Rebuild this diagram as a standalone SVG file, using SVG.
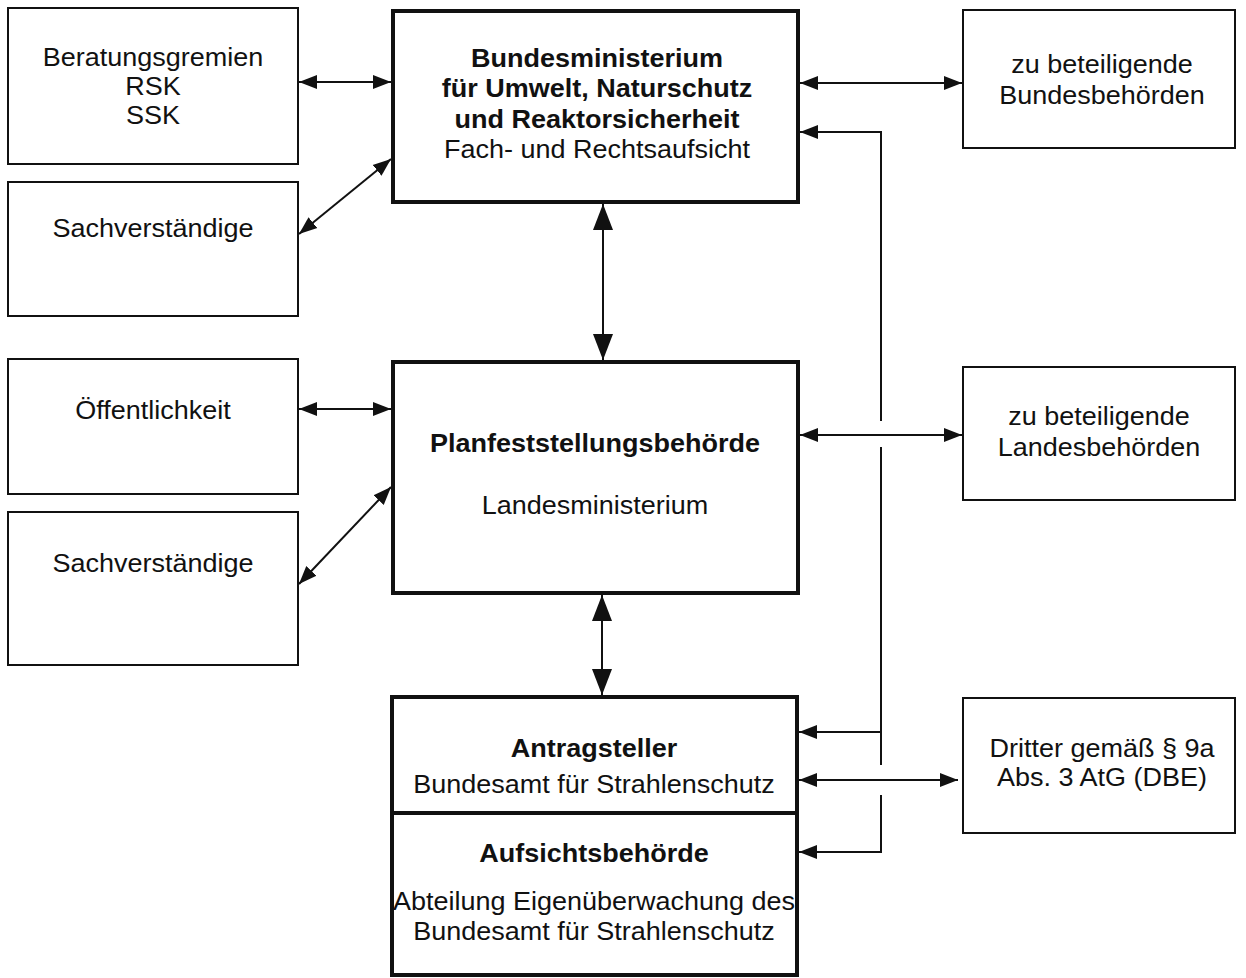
<svg xmlns="http://www.w3.org/2000/svg" width="1246" height="978" viewBox="0 0 1246 978">
<style>
.thin{fill:#fff;stroke:#111;stroke-width:2}
.thick{fill:#fff;stroke:#111;stroke-width:4}
text{font-family:"Liberation Sans",Arial,sans-serif;font-size:25px;fill:#111;text-anchor:middle}
.b{font-weight:bold}
.c{fill:none;stroke:#111;stroke-width:2}
</style>
<defs>
<marker id="ah" markerUnits="userSpaceOnUse" markerWidth="20" markerHeight="16" refX="18" refY="7" orient="auto-start-reverse" viewBox="0 0 20 14">
<path d="M0,0 L18,7 L0,14 Z" fill="#111"/>
</marker>
<marker id="ahv" markerUnits="userSpaceOnUse" markerWidth="28" markerHeight="22" refX="26" refY="10" orient="auto-start-reverse" viewBox="0 0 28 20">
<path d="M0,0 L26,10 L0,20 Z" fill="#111"/>
</marker>
</defs>
<rect width="1246" height="978" fill="#fff"/>
<g id="beratung"><rect class="thin" x="8" y="8" width="290" height="156"/>
<g transform="translate(153 0) scale(1.08 1)"><text x="0" y="66">Beratungsgremien</text><text x="0" y="95">RSK</text><text x="0" y="124">SSK</text></g></g>
<g id="sach1"><rect class="thin" x="8" y="182" width="290" height="134"/>
<g transform="translate(153 0) scale(1.08 1)"><text x="0" y="237">Sachverständige</text></g></g>
<g id="oeff"><rect class="thin" x="8" y="359" width="290" height="135"/>
<g transform="translate(153 0) scale(1.08 1)"><text x="0" y="419">Öffentlichkeit</text></g></g>
<g id="sach2"><rect class="thin" x="8" y="512" width="290" height="153"/>
<g transform="translate(153 0) scale(1.08 1)"><text x="0" y="572">Sachverständige</text></g></g>
<g id="bmu"><rect class="thick" x="393" y="11" width="405" height="191"/>
<g transform="translate(597 0) scale(1.08 1)">
<text class="b" x="0" y="67">Bundesministerium</text>
<text class="b" x="0" y="97">für Umwelt, Naturschutz</text>
<text class="b" x="0" y="128">und Reaktorsicherheit</text>
<text x="0" y="158">Fach- und Rechtsaufsicht</text></g></g>
<g id="planf"><rect class="thick" x="393" y="362" width="405" height="231"/>
<g transform="translate(595 0) scale(1.08 1)">
<text class="b" x="0" y="452">Planfeststellungsbehörde</text>
<text x="0" y="514">Landesministerium</text></g></g>
<g id="antrag"><rect class="thick" x="392" y="697" width="405" height="116"/>
<g transform="translate(594 0) scale(1.08 1)">
<text class="b" x="0" y="757">Antragsteller</text>
<text x="0" y="793">Bundesamt für Strahlenschutz</text></g></g>
<g id="aufsicht"><rect class="thick" x="392" y="813" width="405" height="162"/>
<g transform="translate(594 0) scale(1.08 1)">
<text class="b" x="0" y="862">Aufsichtsbehörde</text>
<text x="0" y="910">Abteilung Eigenüberwachung des</text>
<text x="0" y="940">Bundesamt für Strahlenschutz</text></g></g>
<g id="bundesb"><rect class="thin" x="963" y="10" width="272" height="138"/>
<g transform="translate(1102 0) scale(1.08 1)"><text x="0" y="73">zu beteiligende</text><text x="0" y="104">Bundesbehörden</text></g></g>
<g id="landesb"><rect class="thin" x="963" y="367" width="272" height="133"/>
<g transform="translate(1099 0) scale(1.08 1)"><text x="0" y="425">zu beteiligende</text><text x="0" y="456">Landesbehörden</text></g></g>
<g id="dritter"><rect class="thin" x="963" y="698" width="272" height="135"/>
<g transform="translate(1102 0) scale(1.08 1)"><text x="0" y="757">Dritter gemäß § 9a</text><text x="0" y="786">Abs. 3 AtG (DBE)</text></g></g>
<g id="connectors">
<line class="c" x1="299" y1="82" x2="391" y2="82" marker-start="url(#ah)" marker-end="url(#ah)"/>
<line class="c" x1="299" y1="234" x2="391" y2="159" marker-start="url(#ah)" marker-end="url(#ah)"/>
<line class="c" x1="299" y1="409" x2="391" y2="409" marker-start="url(#ah)" marker-end="url(#ah)"/>
<line class="c" x1="299" y1="584" x2="391" y2="487" marker-start="url(#ah)" marker-end="url(#ah)"/>
<line class="c" x1="603" y1="204" x2="603" y2="360" marker-start="url(#ahv)" marker-end="url(#ahv)"/>
<line class="c" x1="602" y1="595" x2="602" y2="695" marker-start="url(#ahv)" marker-end="url(#ahv)"/>
<line class="c" x1="800" y1="83" x2="962" y2="83" marker-start="url(#ah)" marker-end="url(#ah)"/>
<line class="c" x1="800" y1="435" x2="962" y2="435" marker-start="url(#ah)" marker-end="url(#ah)"/>
<line class="c" x1="799" y1="780" x2="958" y2="780" marker-start="url(#ah)" marker-end="url(#ah)"/>
<polyline class="c" points="881,421 881,132 800,132" marker-end="url(#ah)"/>
<polyline class="c" points="881,447 881,765"/>
<line class="c" x1="881" y1="732" x2="799" y2="732" marker-end="url(#ah)"/>
<polyline class="c" points="881,795 881,852 799,852" marker-end="url(#ah)"/>
</g>
</svg>
